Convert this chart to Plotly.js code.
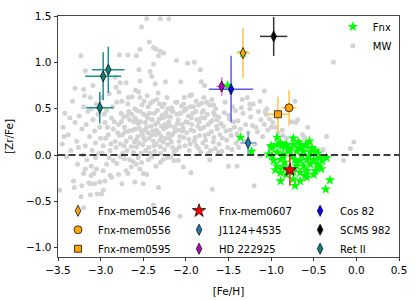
<!DOCTYPE html>
<html><head><meta charset="utf-8">
<script src="https://cdn.plot.ly/plotly-3.0.1.min.js"></script>
<style>html,body{margin:0;padding:0;background:#fff}</style>
</head><body><div id="chart" style="width:416px;height:300px"></div>
<script>
// Milky Way comparison sample ([Fe/H], [Zr/Fe])
const mwFeH = [
-2.46,-2.30,-2.20,-2.52,-2.43,-2.38,-2.35,-2.30,-2.26,-2.54,
-2.58,-2.32,-3.23,-2.78,-2.68,-2.38,-2.11,-1.98,-1.90,-0.27,
-3.18,-3.09,-2.83,-2.77,-2.70,-2.82,-2.54,-3.30,-3.20,-2.36,
-2.59,-2.55,-2.42,-2.40,-2.24,-2.06,-1.82,-1.78,-1.83,-1.08,
-1.93,-1.79,-2.105,-2.027,-1.949,-1.851,-1.753,-1.675,-2.163,-2.066,
-2.99,-2.97,-2.95,-2.93,-2.91,-2.89,-2.87,-2.85,-2.83,-2.81,
-2.98,-2.96,-2.94,-2.92,-2.90,-2.88,-2.86,-2.84,-2.82,-2.80,
-2.79,-2.77,-2.75,-2.73,-2.71,-2.69,-2.67,-2.65,-2.63,-2.61,
-2.78,-2.76,-2.74,-2.72,-2.70,-2.68,-2.66,-2.64,-2.62,-2.60,
-2.785,-2.755,-2.725,-2.695,-2.665,-2.635,-2.605,-2.745,-2.675,-2.615,
-2.59,-2.57,-2.55,-2.53,-2.51,-2.49,-2.47,-2.45,-2.43,-2.41,
-2.58,-2.56,-2.54,-2.52,-2.50,-2.48,-2.46,-2.44,-2.42,-2.40,
-2.595,-2.565,-2.535,-2.505,-2.475,-2.445,-2.415,-2.555,-2.485,-2.425,
-2.585,-2.545,-2.515,-2.465,-2.435,-2.405,-2.575,-2.525,-2.455,-2.495,
-2.39,-2.37,-2.35,-2.33,-2.31,-2.29,-2.27,-2.25,-2.23,-2.21,
-2.38,-2.36,-2.34,-2.32,-2.30,-2.28,-2.26,-2.24,-2.22,-2.20,
-2.395,-2.365,-2.335,-2.305,-2.275,-2.245,-2.215,-2.355,-2.285,-2.225,
-2.385,-2.345,-2.315,-2.265,-2.235,-2.205,-2.375,-2.325,-2.255,-2.295,
-2.19,-2.17,-2.15,-2.13,-2.11,-2.09,-2.07,-2.05,-2.03,-2.01,
-2.18,-2.16,-2.14,-2.12,-2.10,-2.08,-2.06,-2.04,-2.02,-2.00,
-2.195,-2.165,-2.135,-2.105,-2.075,-2.045,-2.015,-2.155,-2.085,-2.025,
-1.99,-1.97,-1.95,-1.93,-1.91,-1.89,-1.87,-1.85,-1.83,-1.81,
-1.98,-1.96,-1.94,-1.92,-1.90,-1.88,-1.86,-1.84,-1.82,-1.80,
-1.995,-1.965,-1.935,-1.905,-1.875,-1.845,-1.815,-1.955,-1.885,-1.825,
-1.79,-1.77,-1.75,-1.73,-1.71,-1.69,-1.67,-1.65,-1.63,-1.61,
-1.78,-1.76,-1.74,-1.72,-1.70,-1.68,-1.66,-1.64,-1.62,-1.60,
-1.795,-1.755,-1.715,-1.675,-1.635,-1.775,-1.695,-1.655,-1.735,-1.615,
-1.59,-1.57,-1.55,-1.53,-1.51,-1.49,-1.47,-1.45,-1.43,-1.41,
-1.58,-1.56,-1.54,-1.52,-1.50,-1.48,-1.46,-1.44,-1.42,-1.40,
-1.39,-1.36,-1.33,-1.30,-1.27,-1.24,-1.21,-1.18,-1.15,-1.12,
-1.38,-1.35,-1.31,-1.28,-1.25,-1.22,-1.19,-1.16,-1.13,-1.10,
-1.08,-1.06,-1.04,-1.02,-1.00,-0.98,-1.25,-1.05,-1.07,-1.34,
-0.72,-0.69,-0.71,-0.76,-0.87,-0.86,-0.82,-0.63,-0.61,-0.35,
-0.03,-0.07,-0.48,-0.45,-0.39,-0.15,-0.95,-0.92,-1.13,-0.57,
-3.48,-3.45,-3.44,-3.42,-3.40,-3.38,-3.35,-3.33,-3.30,-3.28,
-3.27,-3.25,-3.22,-3.21,-3.20,-3.18,-3.17,-3.16,-3.15,-3.13,
-3.12,-3.11,-3.10,-3.09,-3.08,-3.07,-3.06,-3.05,-3.03,-3.01,
-3.14,-3.02,-3.04,-3.00,-3.19,-3.26,-3.36,-3.43,-3.06,-3.11,
-3.31,-3.32,-3.23,-3.20,-3.12,-3.22,-3.12,-3.07,-3.01,-2.99,
-2.97,-2.95,-2.87,-2.89,-2.93,-2.97,-3.05,-3.11,-3.20,-3.18,
-2.79,-2.70,-2.68,-2.64,-2.58,-2.54,-2.50,-2.46,-2.60,-2.50,
-2.75,-2.38,-2.32,-2.14,-2.09,-2.03,-1.94,-1.50,-1.40,-1.20,
-1.69,-1.84,-2.07,-2.85,-2.72,-2.62,-2.44,-2.30,-2.22,-1.72,
-2.90,-2.81,-2.77,-2.66,-2.56,-2.52,-2.40,-2.35,-2.27,-2.18
];
const mwZrFe = [
1.47,1.47,1.47,1.38,1.22,1.16,1.14,1.12,1.10,1.14,
1.07,1.07,1.07,1.08,1.08,0.98,1.02,0.99,1.00,1.00,
0.91,0.75,0.84,0.78,0.78,0.73,0.80,0.72,0.71,0.77,
0.70,0.92,0.90,0.85,0.79,0.79,0.79,0.75,0.92,0.69,
0.65,0.62,0.57,0.55,0.52,0.54,0.57,0.54,0.47,0.45,
0.62,0.10,0.35,0.48,0.22,0.05,0.40,0.28,0.15,0.57,
0.02,0.44,0.18,0.30,0.66,0.12,0.52,0.36,0.08,0.24,
0.33,0.12,0.58,0.41,0.25,0.05,0.47,0.19,0.63,0.36,
0.21,0.45,0.02,0.30,0.15,0.55,0.38,0.09,0.27,0.50,
0.68,0.36,0.10,0.42,0.26,0.44,0.14,0.22,0.62,0.03,
0.28,0.48,0.13,0.36,0.22,0.58,0.05,0.40,0.18,0.31,
0.09,0.34,0.62,0.25,0.44,0.16,0.30,0.52,0.02,0.38,
0.40,0.20,0.47,0.11,0.35,0.24,0.56,0.68,0.27,0.45,
0.16,0.29,0.54,0.43,0.08,0.21,0.37,0.02,0.64,0.19,
0.26,0.45,0.12,0.35,0.55,0.20,0.40,0.06,0.30,0.50,
0.15,0.33,0.60,0.24,0.09,0.43,0.28,0.18,0.62,0.36,
0.38,0.04,0.48,0.16,0.52,0.33,0.11,0.22,0.31,0.42,
0.58,0.27,0.39,0.14,0.46,0.23,0.10,0.67,0.55,0.02,
0.32,0.14,0.47,0.25,0.06,0.38,0.20,0.53,0.29,0.10,
0.41,0.22,0.03,0.57,0.34,0.15,0.45,0.26,0.62,0.36,
0.18,0.51,0.30,0.44,0.09,0.33,0.48,0.08,0.27,0.19,
0.24,0.42,0.12,0.33,0.52,0.19,0.38,0.07,0.28,0.46,
0.35,0.05,0.27,0.45,0.15,0.58,0.31,0.21,0.40,0.13,
0.50,0.17,0.40,0.26,0.10,0.36,0.56,0.64,0.47,0.03,
0.30,0.16,0.44,0.23,0.05,0.37,0.19,0.50,0.28,0.12,
0.40,0.09,0.33,0.54,0.25,0.14,0.43,0.31,0.03,0.22,
0.48,0.57,0.35,0.46,0.38,0.21,0.60,0.07,0.02,0.41,
0.34,0.18,0.46,0.26,0.08,0.39,0.21,0.52,0.30,0.13,
0.04,0.31,0.57,0.16,0.43,0.27,0.06,0.36,0.48,0.23,
0.37,0.28,0.45,0.33,0.24,0.41,0.55,0.30,0.47,0.38,
0.08,0.51,0.15,0.62,0.50,0.32,0.12,0.25,0.58,0.20,
0.33,0.44,0.27,0.39,0.30,0.35,0.55,0.50,0.47,0.60,
0.58,0.38,0.35,0.36,0.27,0.21,0.18,0.22,0.19,0.20,
0.14,0.07,0.04,0.06,0.06,-0.06,0.30,0.24,-0.01,0.30,
-0.38,0.12,0.30,0.45,-0.02,0.22,0.05,0.58,0.35,0.15,
-0.10,0.42,0.28,0.00,0.52,0.10,0.33,-0.05,0.47,0.20,
0.62,-0.12,0.05,0.38,-0.20,0.26,0.13,0.55,0.44,0.30,
-0.30,0.02,-0.42,0.18,0.64,0.08,0.40,0.20,-0.03,0.50,
-0.35,-0.28,-0.45,-0.57,-0.43,-0.33,-0.31,-0.31,-0.29,-0.42,
-0.38,-0.28,-0.24,-0.22,-0.10,-0.17,-0.15,-0.22,-0.20,-0.15,
-0.21,-0.17,-0.20,-0.13,-0.10,-0.15,-0.20,-0.21,-0.29,-0.31,
-0.31,-0.54,-0.35,-0.06,-0.06,-0.13,-0.19,-0.12,-0.12,-0.33,
-0.37,-0.58,-0.66,-0.06,-0.04,-0.07,-0.05,-0.08,-0.03,-0.05,
-0.03,-0.09,-0.02,-0.05,-0.03,-0.08,-0.02,-0.12,-0.05,-0.02
];
// Fornax members
const fnxFeH = [
-1.36,-1.23,-1.33,-1.51,
-0.93,-0.74,-0.89,-0.82,-0.59,-0.66,-0.84,-0.60,
-0.99,-0.93,-0.87,-0.82,-0.74,-0.66,-0.59,
-1.03,-0.99,-0.93,-0.86,-0.80,-0.70,-0.62,-0.54,-0.48,
-0.97,-0.89,-0.84,-0.72,-0.66,-0.58,-0.50,-0.43,-0.35,
-0.93,-0.86,-0.70,-0.62,-0.54,-0.46,
-0.89,-0.82,-0.66,-0.58,-0.48,
-0.89,-0.72,-0.58,-0.31,-0.36,-0.74,-0.66,-0.50,-0.41,
-0.76,-0.70,-0.64,-0.56,-0.52,-0.45,-0.78,-0.86,-0.60,-0.74,-0.95,-1.00,-0.40,-0.44,-0.68,-0.55
];
const fnxZrFe = [
0.19,0.04,1.10,0.75,
0.19,0.18,0.13,0.11,0.11,0.08,0.10,0.10,
0.08,0.11,0.10,0.11,0.11,0.11,0.11,
0.01,-0.01,0.03,0.01,0.04,0.04,0.04,0.03,0.04,
-0.06,-0.05,-0.08,-0.05,-0.06,-0.05,-0.05,-0.03,-0.03,
-0.12,-0.13,-0.12,-0.12,-0.10,-0.10,
-0.19,-0.21,-0.19,-0.17,-0.17,
-0.28,-0.33,-0.24,-0.27,-0.37,-0.26,-0.28,-0.21,-0.15,
-0.02,-0.08,0.00,-0.02,0.08,0.02,0.06,-0.02,-0.22,-0.18,-0.16,0.10,-0.06,-0.12,0.14,0.15
];
// Highlighted stars
const objNames  = ['Fnx-mem0546','Fnx-mem0556','Fnx-mem0595','Fnx-mem0607','J1124+4535','Cos 82','SCMS 982','Ret II','HD 222925'];
const objFeH    = [[-1.33],[-0.79],[-0.92],[-0.78],[-1.27],[-1.47],[-0.97],[-3.01,-2.97,-2.91],[-1.58]];
const objZrFe   = [[1.10],[0.51],[0.44],[-0.16],[0.13],[0.71],[1.28],[0.51,0.85,0.92],[0.74]];
const objFeHErr = [[0.08],[0.09],[0.13],[0.08],[0.09],[0.26],[0.16],[0.16,0.21,0.19],[0.06]];
const objZrFeErr= [[0.27],[0.19],[0.19],[0.17],[0.12],[0.36],[0.21],[0.17,0.26,0.25],[0.10]];

// styles
const objSymbol = ['diamond-tall','circle','square','star','diamond-tall','diamond-tall','diamond-tall','diamond-tall','diamond-tall'];
const objSize   = [8,8,7,10,8,8,8,8,8];
const objColor  = ['#ffa500','#ffa500','#ffa500','#ff0000','#1f77b4','#0000ff','#000000','#0b7f7f','#c000c0'];
const objErrCol = ['#ffc24d','#ffc24d','#ffc24d','#ff2020','#6fa3cf','#5a5aff','#333333','#1b9090','#dd66dd'];
const objLegend = ['legend2','legend2','legend2','legend3','legend3','legend4','legend4','legend4','legend3'];

const traces = [
  {type:'scatter', mode:'markers', name:'MW', x:mwFeH, y:mwZrFe, legendrank:2,
   marker:{color:'#d3d3d3', size:5}, hoverinfo:'skip'},
  {type:'scatter', mode:'markers', name:'Fnx', x:fnxFeH, y:fnxZrFe, legendrank:1,
   marker:{color:'#00ff00', size:8, symbol:'star'}, hoverinfo:'skip'}
];
objNames.forEach((n,i)=>{
  traces.push({type:'scatter', mode:'markers', name:n, x:objFeH[i], y:objZrFe[i], legend:objLegend[i],
    error_x:{type:'data', array:objFeHErr[i], visible:true, color:objErrCol[i], thickness:1.5, width:0},
    error_y:{type:'data', array:objZrFeErr[i], visible:true, color:objErrCol[i], thickness:1.5, width:0},
    marker:{symbol:objSymbol[i], size:objSize[i], color:objColor[i], line:{color:'#111', width:0.8}}});
});

const axFont = {family:'DejaVu Sans', size:10.5, color:'#000'};
const legBase = {xanchor:'left', yanchor:'top', bgcolor:'rgba(0,0,0,0)', borderwidth:0,
  font:{family:'DejaVu Sans', size:10, color:'#000'}};
const layout = {
  width:416, height:300,
  margin:{l:58, r:17, t:13, b:43},
  paper_bgcolor:'#fff', plot_bgcolor:'#fff',
  font:{family:'DejaVu Sans', size:10.5, color:'#000'},
  showlegend:true,
  xaxis:{range:[-3.5,0.5], tick0:-3.5, dtick:0.5, tickformat:'.1f', ticks:'outside', ticklen:3.5,
    tickwidth:0.8, tickcolor:'#000', showline:true, mirror:true, linecolor:'#333', linewidth:0.9,
    showgrid:false, zeroline:false, tickfont:axFont, title:{text:'[Fe/H]', font:axFont, standoff:12}},
  yaxis:{range:[-1.1,1.5], tick0:0, dtick:0.5, tickformat:'.1f', ticks:'outside', ticklen:3.5,
    tickwidth:0.8, tickcolor:'#000', showline:true, mirror:true, linecolor:'#333', linewidth:0.9,
    showgrid:false, zeroline:false, tickfont:axFont, title:{text:'[Zr/Fe]', font:axFont, standoff:10}},
  shapes:[{type:'line', xref:'paper', x0:0, x1:1, yref:'y', y0:0, y1:0, layer:'above',
    line:{color:'#000', width:1.6, dash:'7px,3.5px'}}],
  legend:Object.assign({x:0.806, y:1.016}, legBase),
  legend2:Object.assign({x:0.0, y:0.252}, legBase),
  legend3:Object.assign({x:0.355, y:0.252}, legBase),
  legend4:Object.assign({x:0.71, y:0.252}, legBase)
};
Plotly.newPlot('chart', traces, layout, {displayModeBar:false, staticPlot:true});
</script></body></html>
